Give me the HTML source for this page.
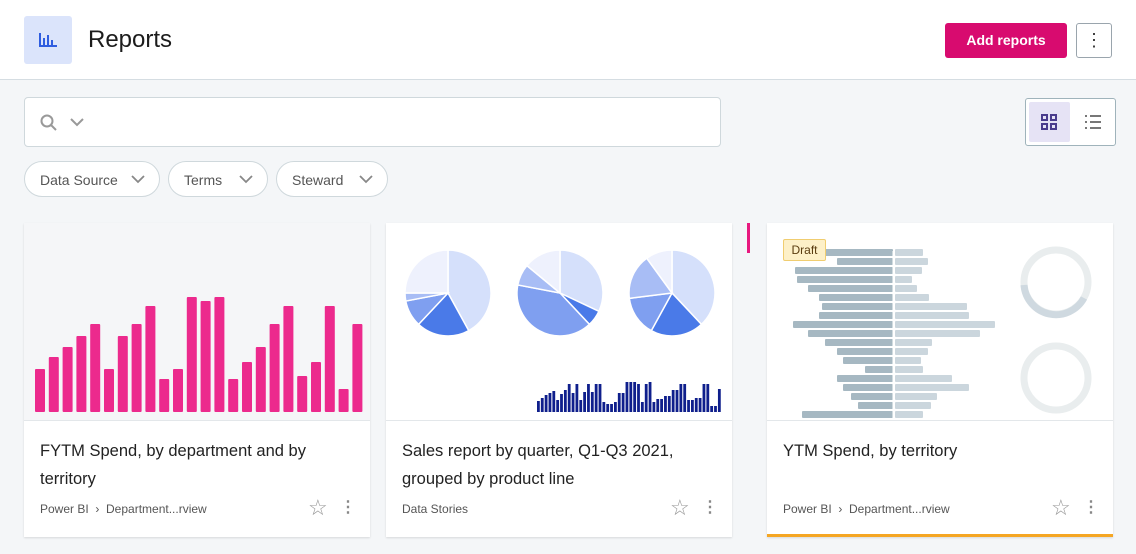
<!DOCTYPE html>
<html><head><style>
body{margin:0;width:1136px;height:554px;background:#f4f6f8;font-family:"Liberation Sans",sans-serif;position:relative;overflow:hidden}
.hdr{position:absolute;left:0;top:0;width:1136px;height:79px;background:#fff;border-bottom:1px solid #d5dde2}
.ic{position:absolute;left:24px;top:16px;width:48px;height:48px;background:#dbe4fb;border-radius:3px}
.t{position:absolute;left:88px;top:26px;font-size:24px;color:#1c1c1c}
.add{position:absolute;left:945px;top:23px;width:122px;height:35px;background:#d80b6f;color:#fff;border-radius:3px;font-size:14px;font-weight:bold;text-align:center;line-height:35px}
.more{position:absolute;left:1076px;top:23px;width:34px;height:33px;border:1px solid #9aa5ad;border-radius:3px;background:#fff;text-align:center;line-height:33px;font-size:18px;color:#333}
.search{position:absolute;left:24px;top:97px;width:695px;height:48px;background:#fff;border:1px solid #cfd8dc;border-radius:4px}
.view{position:absolute;left:1025px;top:98px;width:89px;height:46px;border:1px solid #9fb3bb;border-radius:3px;background:#fff}
.pill{position:absolute;top:161px;height:36px;border:1px solid #cfd8dc;border-radius:19px;background:#fff;font-size:14px;color:#555;line-height:36px;padding-left:15px;box-sizing:border-box}
.pill svg{position:absolute;right:14px;top:12px}
.card{position:absolute;top:223px;width:346px;height:314px;background:#fff;box-shadow:0 1px 2px rgba(0,0,0,.12)}
.card .div{position:absolute;left:0;top:197px;width:100%;border-top:1px solid #e3e7ea}
.card .ti{position:absolute;left:16px;top:214px;font-size:16.5px;line-height:28px;color:#222;width:300px}
.card .meta{position:absolute;left:16px;top:279px;font-size:12px;color:#555}
.card .st{position:absolute;left:284px;top:272px;font-size:22px;color:#999}
.card .dt{position:absolute;left:316px;top:274px;font-size:16px;color:#888;font-weight:bold}
</style></head><body>
<div class="hdr">
<div class="ic"><svg width="48" height="48"><g fill="#2f5de0"><rect x="15" y="17" width="2" height="13"/><rect x="15" y="29" width="18" height="2"/><rect x="19" y="22" width="2" height="7"/><rect x="23" y="19" width="2" height="10"/><rect x="27" y="24" width="2" height="5"/></g></svg></div>
<div class="t">Reports</div>
<div class="add">Add reports</div>
<div class="more">⋮</div>
</div>
<div class="search"><svg width="80" height="48"><circle cx="22" cy="23" r="5.5" stroke="#999" stroke-width="2" fill="none"/><line x1="26" y1="27" x2="31" y2="32" stroke="#999" stroke-width="2"/><polyline points="46,21 52,27 58,21" stroke="#999" stroke-width="2" fill="none"/></svg></div>
<div class="view"><div style="position:absolute;left:3px;top:3px;width:41px;height:40px;background:#e6e3f5;border-radius:2px"></div>
<svg width="89" height="46" style="position:absolute;left:0;top:0"><g fill="none" stroke="#4a3c8c" stroke-width="2"><rect x="16" y="16" width="5" height="5"/><rect x="25" y="16" width="5" height="5"/><rect x="16" y="25" width="5" height="5"/><rect x="25" y="25" width="5" height="5"/></g><g stroke="#555" stroke-width="1.6"><line x1="59" y1="17" x2="61" y2="17"/><line x1="64" y1="17" x2="75" y2="17"/><line x1="59" y1="23" x2="61" y2="23"/><line x1="64" y1="23" x2="75" y2="23"/><line x1="59" y1="29" x2="61" y2="29"/><line x1="64" y1="29" x2="75" y2="29"/></g></svg></div>
<div class="pill" style="left:24px;width:136px">Data Source<svg width="14" height="10"><polyline points="1,2 7,8 13,2" stroke="#888" stroke-width="1.8" fill="none"/></svg></div>
<div class="pill" style="left:168px;width:100px">Terms<svg width="14" height="10"><polyline points="1,2 7,8 13,2" stroke="#888" stroke-width="1.8" fill="none"/></svg></div>
<div class="pill" style="left:276px;width:112px">Steward<svg width="14" height="10"><polyline points="1,2 7,8 13,2" stroke="#888" stroke-width="1.8" fill="none"/></svg></div>
<div style="position:absolute;left:747px;top:223px;width:3px;height:30px;background:#e8197f"></div>

<div class="card" style="left:24px">
<svg width="346" height="197" style="position:absolute;left:0;top:0;background:#f5f6f8"><g fill="#ec2a8d" id="pb"></g></svg>
<div class="div"></div>
<div class="ti">FYTM Spend, by department and by territory</div>
<div class="meta">Power BI &nbsp;›&nbsp; Department...rview</div>
<div class="st">☆</div><div class="dt">⋮</div>
</div>

<div class="card" style="left:386px">
<svg width="346" height="197" style="position:absolute;left:0;top:0" id="c2"></svg>
<div class="div"></div>
<div class="ti">Sales report by quarter, Q1-Q3 2021, grouped by product line</div>
<div class="meta">Data Stories</div>
<div class="st">☆</div><div class="dt">⋮</div>
</div>

<div class="card" style="left:767px;border-bottom:3px solid #f5a623;height:311px">
<svg width="346" height="197" style="position:absolute;left:0;top:0" id="c3"></svg>
<div style="position:absolute;left:16px;top:16px;width:41px;height:20px;background:#fdf0c8;border:1px solid #f0cd70;border-radius:2px;font-size:12px;color:#5a3c10;text-align:center;line-height:20px">Draft</div>
<div class="div"></div>
<div class="ti">YTM Spend, by territory</div>
<div class="meta">Power BI &nbsp;›&nbsp; Department...rview</div>
<div class="st">☆</div><div class="dt">⋮</div>
</div>
<script>
var NS="http://www.w3.org/2000/svg";
function el(p,t,a){var e=document.createElementNS(NS,t);for(var k in a)e.setAttribute(k,a[k]);p.appendChild(e);return e;}
var tops=[369,357,347,336,324,369,336,324,306,379,369,297,301,297,379,362,347,324,306,376,362,306,389,324];
var pb=document.getElementById('pb');
tops.forEach(function(t,i){el(pb,'rect',{x:11+i*13.8,y:t-223,width:10,height:412-t,rx:1});});
var c2=document.getElementById('c2');
function pie(cx,cy,r,fr,cols){var a=-Math.PI/2;fr.forEach(function(f,i){var b=a+f*2*Math.PI;var x1=cx+r*Math.cos(a),y1=cy+r*Math.sin(a),x2=cx+r*Math.cos(b),y2=cy+r*Math.sin(b);el(c2,'path',{d:'M'+cx+','+cy+'L'+x1+','+y1+'A'+r+','+r+' 0 '+(f>.5?1:0)+' 1 '+x2+','+y2+'Z',fill:cols[i],stroke:'#fff','stroke-width':1.5});a=b;});}
var L='#d5e0fb',M='#a8bdf5',D='#4a7ae8',N='#7f9ff0',E='#eef1fd';
pie(62,70,43,[.42,.2,.1,.03,.25],[L,D,N,M,E]);
pie(174,70,43,[.32,.06,.4,.08,.14],[L,D,N,M,E]);
pie(286,70,43,[.38,.2,.15,.17,.1],[L,D,N,M,E]);
for(var i=0;i<48;i++){var h=[11,14,17,19,21,12,18,22,28,19,28,12,20,28,20,28,28,10,8,8,10,19,19,30,30,30,28,10,28,30,10,13,13,16,16,22,22,28,28,12,12,14,14,28,28,6,6,23][i];el(c2,'rect',{x:151+i*3.85,y:189-h,width:2.8,height:h,fill:'#0f1f8c'});}
[[186,175],[226,183],[246,183],[254,181],[259,181],[300,181],[308,184]].forEach(function(p){el(c2,'rect',{x:p[0]-386+380-2,y:p[1]-223,width:2,height:7,fill:'#c7d2f5'});});
var c3=document.getElementById('c3');
var Ls=[825,837,795,797,808,819,822,819,793,808,825,837,843,865,837,843,851,858,802],Rs=[923,928,922,912,917,929,967,969,995,980,932,928,921,923,952,969,937,931,923];
for(var i=0;i<19;i++){var y=252+i*9-223-4;el(c3,'rect',{x:Ls[i]-767,y:y+1,width:893-Ls[i],height:7,fill:'#a6b8c2',rx:1});el(c3,'rect',{x:895-767,y:y+1,width:Rs[i]-895,height:7,fill:'#cbd6dd',rx:1});}
el(c3,'rect',{x:125.5,y:28,width:1,height:169,fill:'#fff'});
el(c3,'circle',{cx:289,cy:59,r:32,fill:'none',stroke:'#e9edee','stroke-width':7});
el(c3,'path',{d:'M257,62 A32,32 0 0 0 317,75',fill:'none',stroke:'#cfd9e0','stroke-width':7});
el(c3,'circle',{cx:289,cy:155,r:32,fill:'none',stroke:'#e9edee','stroke-width':7});
</script>
</body></html>
